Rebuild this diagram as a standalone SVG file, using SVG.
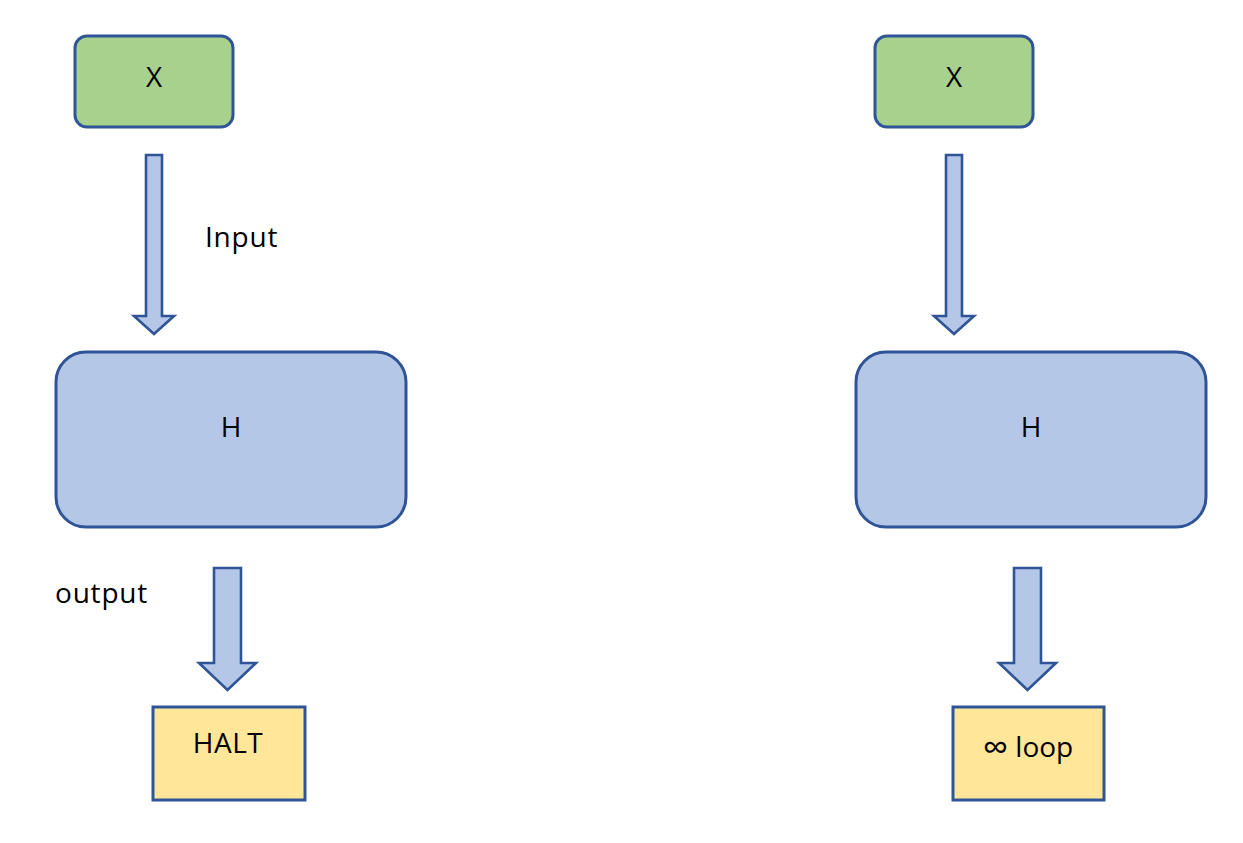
<svg xmlns="http://www.w3.org/2000/svg" width="1243" height="843" viewBox="0 0 1243 843">
<style>
.box{stroke:#2f5597;stroke-width:3}
.green{fill:#a9d18e}
.blue{fill:#b4c7e7}
.yellow{fill:#ffe699}
.arrow{fill:#b4c7e7;stroke:#2f5597;stroke-width:2.6;stroke-linejoin:miter}
text{font-family:"Open Sans","Noto Sans","Liberation Sans",sans-serif;font-size:28px;fill:#000}
.c{text-anchor:middle}
</style>
<rect width="1243" height="843" fill="#fff"/>
<g id="x-left"><rect class="box green" x="75" y="36" width="158" height="91" rx="12"/><text class="c" x="154" y="87">X</text></g>
<g id="x-right"><rect class="box green" x="875" y="36" width="158" height="91" rx="12"/><text class="c" x="954" y="87">X</text></g>
<g id="h-left"><rect class="box blue" x="56" y="352" width="350" height="175" rx="30"/><text class="c" x="231" y="437">H</text></g>
<g id="h-right"><rect class="box blue" x="856" y="352" width="350" height="175" rx="30"/><text class="c" x="1031" y="437">H</text></g>
<g id="halt"><rect class="box yellow" x="153" y="707" width="152" height="93"/><text class="c" x="228" y="753" letter-spacing="0.5">HALT</text></g>
<g id="loop"><rect class="box yellow" x="953" y="707" width="151" height="93"/><text class="c" x="1028" y="757"><tspan font-size="36" dy="3">∞</tspan><tspan dy="-3"> loop</tspan></text></g>
<g id="connectors">
<polygon class="arrow" points="146,155 162,155 162,316 174,316 154,334 134,316 146,316"/>
<polygon class="arrow" points="946,155 962,155 962,316 974,316 954,334 934,316 946,316"/>
<polygon class="arrow" points="214,568 241,568 241,663 256,663 227.5,690 199,663 214,663"/>
<polygon class="arrow" points="1014,568 1041,568 1041,663 1056,663 1027.5,690 999,663 1014,663"/>
<text x="205" y="247" letter-spacing="0.8">Input</text>
<text x="55" y="603" letter-spacing="0.8">output</text>
</g>
</svg>
